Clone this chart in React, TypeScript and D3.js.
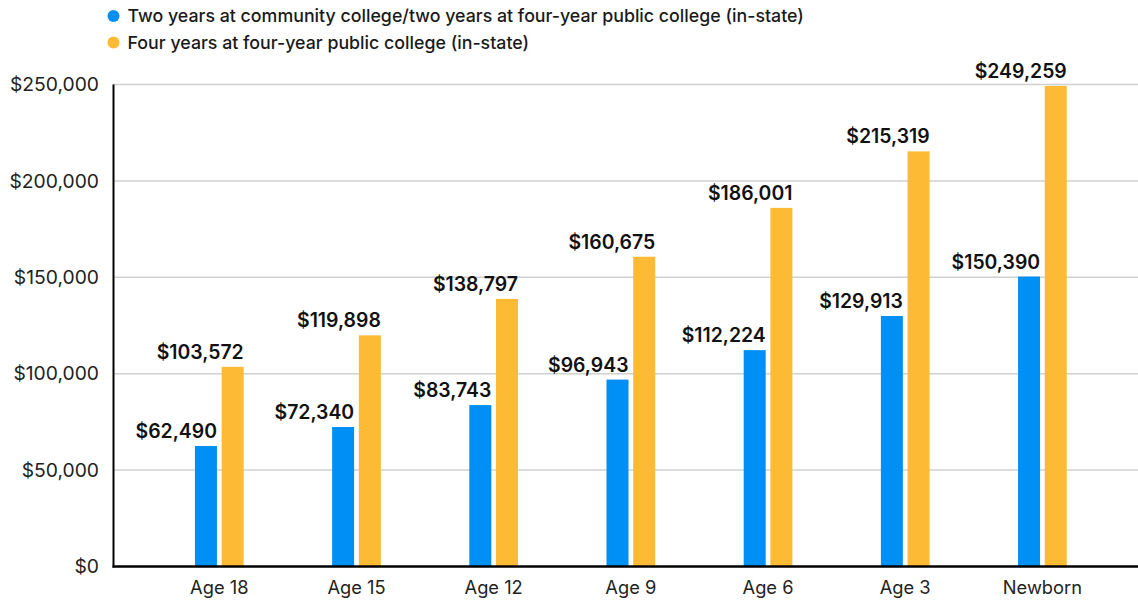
import React from "react";
import * as d3 from "d3";

const categories = ["Age 18", "Age 15", "Age 12", "Age 9", "Age 6", "Age 3", "Newborn"];
const seriesNames = [
  "Two years at community college/two years at four-year public college (in-state)",
  "Four years at four-year public college (in-state)",
];
const seriesColors = ["#0090F5", "#FDBA35"];
const twoYear = [62490, 72340, 83743, 96943, 112224, 129913, 150390];
const fourYear = [103572, 119898, 138797, 160675, 186001, 215319, 249259];
const yTicks = [0, 50000, 100000, 150000, 200000, 250000];

const W = 1138;
const H = 600;
const axisX = 113.5;
const plotRight = 1138;
const FONT = "Inter, 'Noto Sans', Roboto, sans-serif";

export default function App() {
  const y = d3.scaleLinear().domain([0, 250000]).range([566.5, 84.5]);
  const x = d3.scaleBand<string>().domain(categories).range([150.7, 1111]).padding(0);
  const sub = d3
    .scaleBand<number>()
    .domain([0, 1])
    .range([0, 48.7])
    .paddingInner(0.176);
  const fmt = (v: number) => "$" + d3.format(",")(v);
  const series = [twoYear, fourYear];

  return (
    <svg
      width={W}
      height={H}
      style={{ position: "absolute", left: 0, top: 0, background: "#fff" }}
      fontFamily={FONT}
    >
      {/* legend */}
      {seriesNames.map((name, i) => (
        <g key={name} transform={`translate(113.5, ${16 + i * 26.5})`}>
          <circle r={6} fill={seriesColors[i]} />
          <text x={14} dy="0.35em" fontSize={17.8} fontWeight={500} fill="#1a1a1a">
            {name}
          </text>
        </g>
      ))}

      {/* grid */}
      {yTicks.map((t) => (
        <g key={t}>
          {t > 0 && (
            <line x1={axisX} x2={plotRight} y1={y(t)} y2={y(t)} stroke="#d0d0d0" strokeWidth={1.5} />
          )}
          <text
            x={99}
            y={y(t)}
            dy="0.35em"
            textAnchor="end"
            fontSize={19.3}
            fill="#222"
          >
            {fmt(t)}
          </text>
        </g>
      ))}

      {/* bars */}
      {categories.map((c, ci) => {
        const gx = x(c)! + x.bandwidth() / 2 - 24.35;
        return (
          <g key={c} transform={`translate(${gx},0)`}>
            {series.map((s, si) => {
              const bx = sub(si)!;
              const bw = sub.bandwidth();
              return (
                <g key={si}>
                  <rect
                    x={bx}
                    y={y(s[ci])}
                    width={bw}
                    height={y(0) - y(s[ci])}
                    fill={seriesColors[si]}
                  />
                  <text
                    x={bx + bw}
                    y={y(s[ci]) - 8}
                    textAnchor="end"
                    fontSize={19.4}
                    fontWeight={600}
                    fill="#111"
                  >
                    {fmt(s[ci])}
                  </text>
                </g>
              );
            })}
          </g>
        );
      })}

      {/* x labels */}
      {categories.map((c) => (
        <text
          key={c}
          x={x(c)! + x.bandwidth() / 2}
          y={594}
          textAnchor="middle"
          fontSize={18.3}
          fill="#222"
        >
          {c}
        </text>
      ))}

      {/* axes */}
      <line x1={axisX} x2={axisX} y1={y(250000)} y2={y(0) + 1} stroke="#000" strokeWidth={2} />
      <line x1={axisX - 1} x2={plotRight} y1={y(0)} y2={y(0)} stroke="#000" strokeWidth={2.5} />
    </svg>
  );
}
